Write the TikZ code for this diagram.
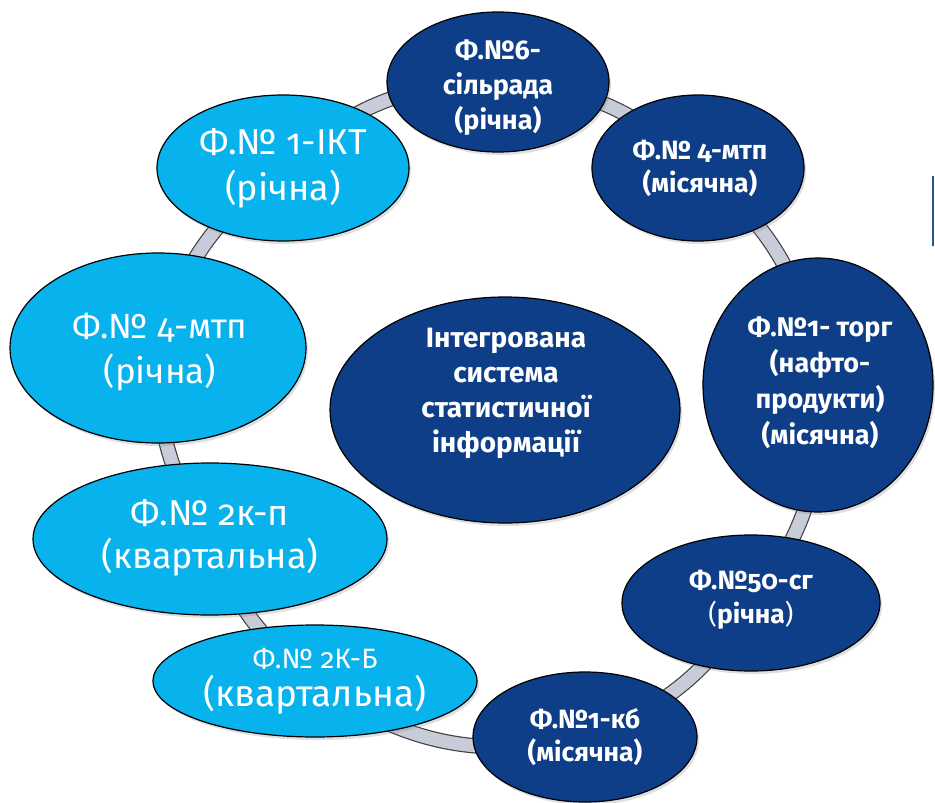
\documentclass[tikz,border=0pt]{standalone}
\usepackage{fontspec}
\setmainfont{Fira Sans}[Numbers=OldStyle]
\usetikzlibrary{shapes.geometric,backgrounds,shadows}
\definecolor{darkb}{RGB}{14,62,135}
\definecolor{lightb}{RGB}{8,178,236}
\definecolor{ringg}{RGB}{200,204,216}
\definecolor{edgeb}{RGB}{30,90,140}
\begin{document}
\begin{tikzpicture}[x=1pt,y=-1pt,
  oval/.style={ellipse, draw=black, line width=1.2pt, inner sep=0pt,
    drop shadow={opacity=0.25,shadow xshift=2pt,shadow yshift=-3pt}},
  darkoval/.style={oval, fill=darkb},
  lightoval/.style={oval, fill=lightb},
  dtxt/.style={text=white, align=center},
  ltxt/.style={text=white, align=center},
  ring/.style={draw=black!75, line width=1.2pt, double=ringg, double distance=13pt}]
\useasboundingbox (0,0) rectangle (935,803);
% ellipses
\node[darkoval, minimum width=222pt, minimum height=140pt] (top) at (498,82) {};
\node[darkoval, minimum width=212pt, minimum height=146pt] (m4) at (698,168) {};
\node[darkoval, minimum width=230pt, minimum height=254pt] (torg) at (818,385) {};
\node[darkoval, minimum width=258pt, minimum height=136pt] (sg) at (751,603) {};
\node[darkoval, minimum width=224pt, minimum height=130pt] (kb) at (585,737) {};
\node[lightoval, minimum width=324pt, minimum height=112pt] (kbb) at (315,681) {};
\node[lightoval, minimum width=354pt, minimum height=152pt] (kp) at (210,539) {};
\node[lightoval, minimum width=296pt, minimum height=190pt] (mtp) at (158,348) {};
\node[lightoval, minimum width=252pt, minimum height=146pt] (ikt) at (283,168) {};
\node[darkoval, minimum width=350pt, minimum height=226pt] (core) at (505,410) {};
% ring connectors
\begin{pgfonlayer}{background}
\draw[ring] (top.center) to[bend left=20] (m4.center);
\draw[ring] (m4.center) to[bend left=23] (torg.center);
\draw[ring] (torg.center) to[bend left=21] (sg.center);
\draw[ring] (sg.center) to[bend left=19] (kb.center);
\draw[ring] (kb.center) to[bend left=24] (kbb.center);
\draw[ring] (kbb.center) to[bend left=16] (kp.center);
\draw[ring] (kp.center) to[bend left=17] (mtp.center);
\draw[ring] (mtp.center) to[bend left=19] (ikt.center);
\draw[ring] (ikt.center) to[bend left=21] (top.center);
\end{pgfonlayer}
% texts
\node[dtxt, font=\bfseries\fontsize{27}{35}\selectfont] (ttop) at (498,88) {Ф.№6-\\сільрада\\(річна)};
\node[dtxt, font=\bfseries\fontsize{26.5}{33}\selectfont] (tm4) at (700,168) {Ф.№ 4-мтп\\(місячна)};
\node[dtxt, font=\bfseries\fontsize{27}{36}\selectfont] (ttorg) at (820,383) {Ф.№1- торг\\(нафто-\\продукти)\\(місячна)};
\node[dtxt, font=\bfseries\fontsize{26.5}{34}\selectfont] (tsg) at (751,600) {Ф.№50-сг\\{\mdseries(}річна{\mdseries)}};
\node[dtxt, font=\bfseries\fontsize{26.5}{33}\selectfont] (tkb) at (585,737) {Ф.№1-кб\\(місячна)};
\node[dtxt, font=\bfseries\fontsize{28}{35}\selectfont] (tcore) at (506,393) {Інтегрована\\система\\статистичної\\інформації};
\node[ltxt, font=\fontsize{37}{38}\selectfont] (tkbb) at (315,681) {{\fontsize{28}{38}\selectfont Ф.№ 2К-Б}\\(квартальна)};
\node[ltxt, font=\fontsize{36}{43}\selectfont] (tkp) at (210,538) {Ф.№ 2к-п\\(квартальна)};
\node[ltxt, font=\fontsize{35}{45}\selectfont] (tmtp) at (160,352) {Ф.№ 4-мтп\\(річна)};
\node[ltxt, font=\fontsize{36}{46}\selectfont] (tikt) at (283,168) {Ф.№ 1-ІКТ\\(річна)};
% fragment at right edge
\draw[edgeb, line width=2pt] (933,176) -- (933,246);
\end{tikzpicture}
\end{document}
